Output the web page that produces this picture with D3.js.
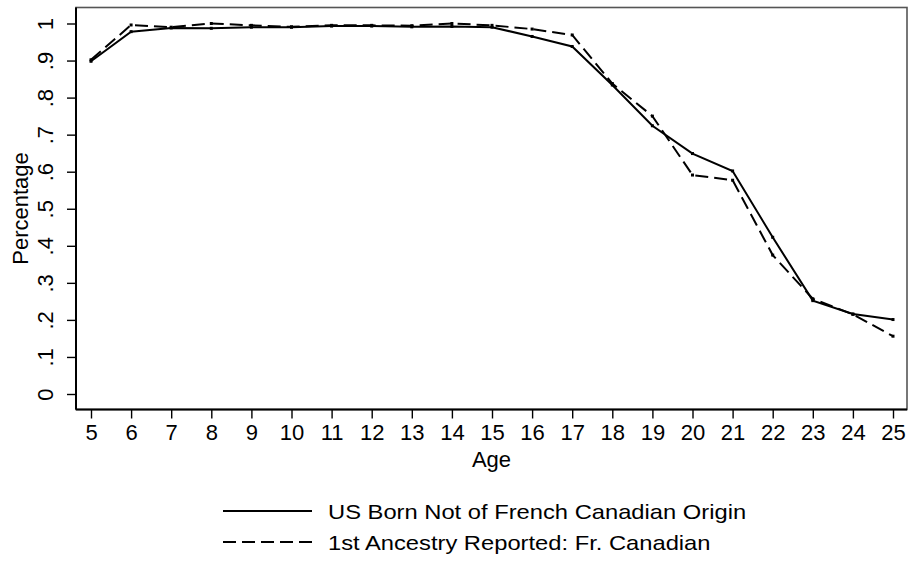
<!DOCTYPE html>
<html>
<head>
<meta charset="utf-8">
<script src="https://cdn.jsdelivr.net/npm/d3@7"></script>
<style>
  body { margin: 0; background: #fff; }
  svg text { font-family: "Liberation Sans", Arial, Helvetica, sans-serif; fill: #000; }
</style>
</head>
<body>
<div id="chart"></div>
<script>
// Share of children by age, two groups
const ages = [5, 6, 7, 8, 9, 10, 11, 12, 13, 14, 15, 16, 17, 18, 19, 20, 21, 22, 23, 24, 25];
const usBorn = [0.898, 0.978, 0.988, 0.987, 0.990, 0.990, 0.993, 0.993, 0.991, 0.992, 0.990,
                0.965, 0.938, 0.834, 0.724, 0.649, 0.602, 0.423, 0.252, 0.216, 0.201];
const frCanadian = [0.902, 0.996, 0.990, 1.000, 0.995, 0.991, 0.995, 0.995, 0.994, 1.000, 0.995,
                    0.985, 0.969, 0.838, 0.750, 0.591, 0.577, 0.375, 0.257, 0.215, 0.156];
const yTicks = [0, 0.1, 0.2, 0.3, 0.4, 0.5, 0.6, 0.7, 0.8, 0.9, 1];
const seriesNames = ["US Born Not of French Canadian Origin", "1st Ancestry Reported: Fr. Canadian"];

{
    const width = 909, height = 561;
    const frame = { left: 76, top: 7.5, right: 907, bottom: 409.5 };

    const svg = d3.select("#chart")
        .append("svg")
        .attr("width", width)
        .attr("height", height);

    const x = d3.scaleLinear()
        .domain([5, 25])
        .range([frame.left + 15, frame.right - 14]);

    const y = d3.scaleLinear()
        .domain([0, 1])
        .range([frame.bottom - 15.5, frame.top + 16]);

    // plot region outline
    svg.append("rect")
        .attr("x", frame.left)
        .attr("y", frame.top)
        .attr("width", frame.right - frame.left)
        .attr("height", frame.bottom - frame.top)
        .attr("fill", "none")
        .attr("stroke", "#555")
        .attr("stroke-width", 1.6);

    const fmt = d => d === 0 ? "0" : d === 1 ? "1" : d3.format(".1f")(d).replace(/^0/, "");

    // y axis
    const gy = svg.append("g")
        .attr("transform", `translate(${frame.left},0)`)
        .call(d3.axisLeft(y).tickValues(yTicks).tickFormat(fmt).tickSize(9).tickSizeOuter(0));
    gy.select(".domain").remove();
    gy.selectAll(".tick line").attr("stroke", "#000").attr("stroke-width", 1.4);
    gy.selectAll(".tick text")
        .attr("transform", "rotate(-90)")
        .attr("x", 0)
        .attr("y", -23)
        .attr("dy", 0)
        .attr("text-anchor", "middle")
        .attr("font-size", "22px")
        .attr("font-family", null);

    // x axis
    const gx = svg.append("g")
        .attr("transform", `translate(0,${frame.bottom})`)
        .call(d3.axisBottom(x).tickValues(ages).tickFormat(d3.format("d")).tickSize(9).tickSizeOuter(0).tickPadding(6));
    gx.select(".domain").remove();
    gx.selectAll(".tick line").attr("stroke", "#000").attr("stroke-width", 1.4);
    gx.selectAll(".tick text")
        .attr("font-size", "22px")
        .attr("font-family", null);

    // black axis lines
    svg.append("line")
        .attr("x1", frame.left).attr("x2", frame.left)
        .attr("y1", frame.top).attr("y2", frame.bottom)
        .attr("stroke", "#000").attr("stroke-width", 2);
    svg.append("line")
        .attr("x1", frame.left).attr("x2", frame.right)
        .attr("y1", frame.bottom).attr("y2", frame.bottom)
        .attr("stroke", "#000").attr("stroke-width", 2);

    // axis titles
    svg.append("text")
        .attr("transform", `translate(28,${(frame.top + frame.bottom) / 2}) rotate(-90)`)
        .attr("text-anchor", "middle")
        .attr("font-size", "22px")
        .text("Percentage");

    svg.append("text")
        .attr("x", (frame.left + frame.right) / 2)
        .attr("y", 467)
        .attr("text-anchor", "middle")
        .attr("font-size", "22px")
        .text("Age");

    // series
    const series = [
        { name: seriesNames[0], values: usBorn, dash: null },
        { name: seriesNames[1], values: frCanadian, dash: "13,6" }
    ];

    const line = d3.line()
        .x(d => x(d[0]))
        .y(d => y(d[1]));

    series.forEach(s => {
        const pts = ages.map((a, i) => [a, s.values[i]]);
        svg.append("path")
            .datum(pts)
            .attr("d", line)
            .attr("fill", "none")
            .attr("stroke", "#000")
            .attr("stroke-width", 2)
            .attr("stroke-dasharray", s.dash);
        svg.append("g")
            .selectAll("rect")
            .data(pts)
            .join("rect")
            .attr("x", d => x(d[0]) - 1.5)
            .attr("y", d => y(d[1]) - 1.5)
            .attr("width", 3)
            .attr("height", 3)
            .attr("fill", "#000");
    });

    // legend (glyphs in the original are a bit wider than Liberation Sans)
    const legend = svg.append("g");
    series.forEach((s, i) => {
        const ly = 511 + i * 31;
        legend.append("line")
            .attr("x1", 223).attr("x2", 312)
            .attr("y1", ly).attr("y2", ly)
            .attr("stroke", "#000")
            .attr("stroke-width", 2)
            .attr("stroke-dasharray", s.dash);
        const t = legend.append("text")
            .attr("x", 328)
            .attr("y", ly + 7.5)
            .attr("font-size", "21px")
            .text(s.name);
        const natural = t.node().getComputedTextLength();
        t.attr("textLength", natural * 1.13)
            .attr("lengthAdjust", "spacingAndGlyphs");
    });
}
</script>
</body>
</html>
